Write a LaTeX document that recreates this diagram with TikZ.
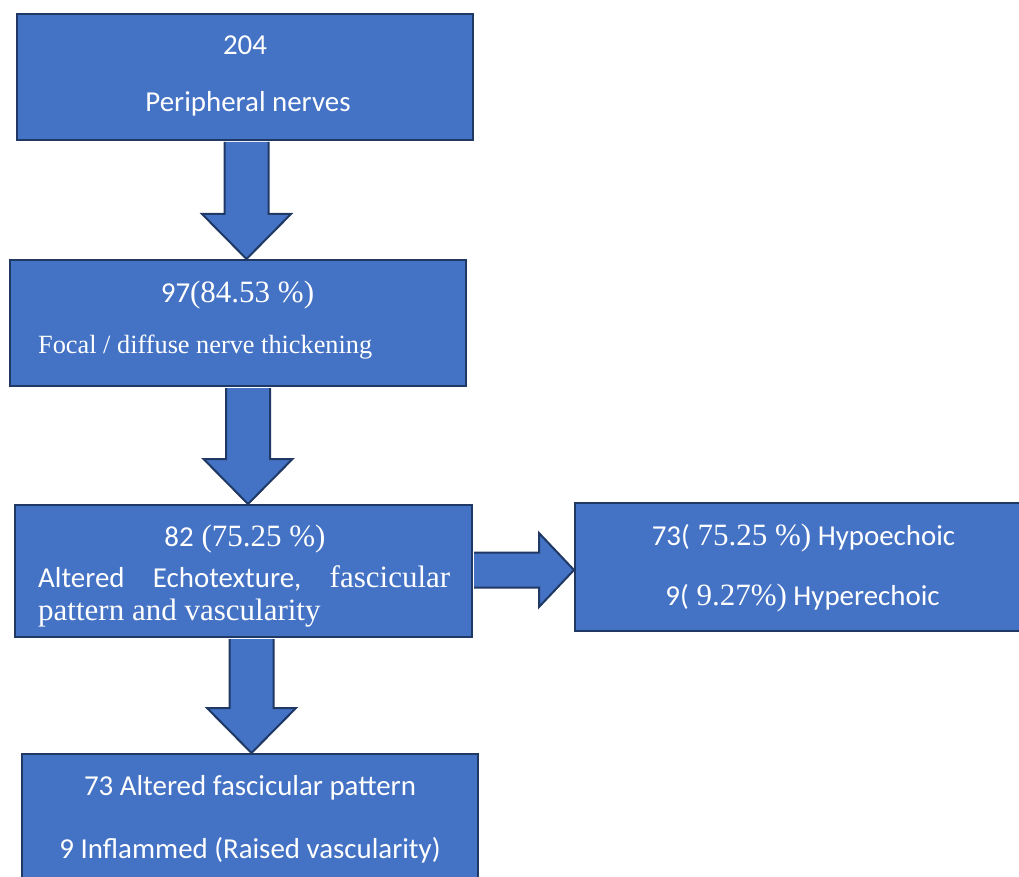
\documentclass[tikz,border=0pt]{standalone}
\usepackage{fontspec}
\setmainfont{Liberation Serif}
\newfontfamily\clb{Carlito}
\usetikzlibrary{calc}

\definecolor{boxblue}{HTML}{4472C4}
\definecolor{boxline}{HTML}{1F3864}

% Carlito pieces inside the serif lines
\newcommand\cb[1]{{\clb\fontsize{28.9}{34}\selectfont #1}}

% block arrows from one box to the next
\newcommand\downblock[3]{%
  \fill[boxblue] let \p1=(#1.south), \p2=(#2.north), \p3=(#3,0) in
    (\x3-22pt,\y1-1pt) -- (\x3-22pt,\y2+45pt) -- (\x3-44.5pt,\y2+45pt) -- (\x3,\y2)
    -- (\x3+44.5pt,\y2+45pt) -- (\x3+22pt,\y2+45pt) -- (\x3+22pt,\y1-1pt) -- cycle;
  \draw[blockarrow] let \p1=(#1.south), \p2=(#2.north), \p3=(#3,0) in
    (\x3-22pt,\y1-1pt) -- (\x3-22pt,\y2+45pt) -- (\x3-44.5pt,\y2+45pt) -- (\x3,\y2)
    -- (\x3+44.5pt,\y2+45pt) -- (\x3+22pt,\y2+45pt) -- (\x3+22pt,\y1-1pt);}
\newcommand\rightblock[3]{%
  \fill[boxblue] let \p1=(#1.east), \p2=(#2.west), \p3=(0,#3) in
    (\x1+1pt,\y3+17.5pt) -- (\x2-35pt,\y3+17.5pt) -- (\x2-35pt,\y3+37pt) -- (\x2,\y3)
    -- (\x2-35pt,\y3-37pt) -- (\x2-35pt,\y3-17.5pt) -- (\x1+1pt,\y3-17.5pt) -- cycle;
  \draw[blockarrow] let \p1=(#1.east), \p2=(#2.west), \p3=(0,#3) in
    (\x1+1pt,\y3+17.5pt) -- (\x2-35pt,\y3+17.5pt) -- (\x2-35pt,\y3+37pt) -- (\x2,\y3)
    -- (\x2-35pt,\y3-37pt) -- (\x2-35pt,\y3-17.5pt) -- (\x1+1pt,\y3-17.5pt);}

\begin{document}
\begin{tikzpicture}[x=1pt,y=-1pt,
    box/.style={rectangle,draw=boxline,fill=boxblue,line width=2pt,inner sep=0pt},
    blockarrow/.style={draw=boxline,line width=2pt,line join=miter},
    lbl/.style={text=white,anchor=base,inner sep=0pt,font=\fontsize{31}{37}\selectfont}]

  \useasboundingbox (0,0) rectangle (1019,877);

  \node[box,minimum width=456pt,minimum height=126pt] (nerves)  at (245,77)    {};
  \node[box,minimum width=456pt,minimum height=126pt] (thick)   at (238,323)   {};
  \node[box,minimum width=457pt,minimum height=132pt] (echo)    at (243.5,571) {};
  \node[box,minimum width=460pt,minimum height=128pt] (grade)   at (805,567)   {};
  \node[box,minimum width=456pt,minimum height=140pt] (pattern) at (250,824)   {};

  \downblock{nerves}{thick}{246.5}
  \downblock{thick}{echo}{248}
  \rightblock{echo}{grade}{570}
  \downblock{echo}{pattern}{251.5}

  % labels
  \node[lbl] (nervesnum)  at (245,55)  {\cb{204}};
  \node[lbl] (nervestxt)  at (248,112) {\cb{Peripheral nerves}};
  \node[lbl] (thicknum)   at (237.5,302) {\cb{97}(84.53 \%)};
  \node[lbl,anchor=base west,font=\fontsize{26.3}{31}\selectfont] (thicktxt) at (38,353)
      {Focal / diffuse nerve thickening};
  \node[lbl] (echonum)    at (245,546) {\cb{82} (75.25 \%)};
  \node[lbl,anchor=base west] (echotxt) at (38,587)
      {\makebox[412pt][s]{\cb{Altered}\hfill\cb{Echotexture,}\hfill fascicular}};
  \node[lbl,anchor=base west] (echotxtb) at (38,620) {pattern and vascularity};
  \node[lbl] (hypo)       at (803.5,545) {\cb{73(} 75.25 \%)\cb{ Hypoechoic}};
  \node[lbl] (hyper)      at (802.5,605) {\cb{9(} 9.27\%)\cb{ Hyperechoic}};
  \node[lbl] (fasc)       at (250,795) {\cb{73 Altered fascicular pattern}};
  \node[lbl] (inflam)     at (250,858) {\cb{9 Inflammed (Raised vascularity)}};

\end{tikzpicture}
\end{document}
